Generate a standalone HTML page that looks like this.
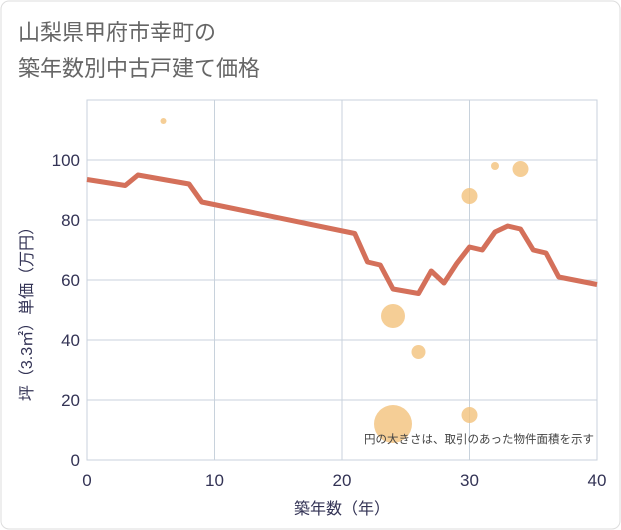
<!DOCTYPE html>
<html><head><meta charset="utf-8"><style>
html,body{margin:0;padding:0;background:#fff;}
svg{display:block;font-family:"Liberation Sans","Noto Sans CJK JP",sans-serif;}
</style></head><body>
<svg id="chart" width="621" height="530" viewBox="0 0 621 530">
<rect x="1" y="1" width="619" height="528" rx="8" fill="#fff" stroke="#ddd" stroke-width="1"/>
<text x="18" y="40" font-size="22" fill="#666">山梨県甲府市幸町の</text>
<text x="18" y="76" font-size="22" fill="#666">築年数別中古戸建て価格</text>
<g id="grid"></g>
<g id="marks"></g>
<g id="axes"></g>
<text transform="translate(32,310) rotate(-90)" text-anchor="middle" font-size="16" fill="#335">坪（3.3㎡）単価（万円）</text>
<text x="342" y="514" text-anchor="middle" font-size="16" fill="#335">築年数（年）</text>
<text x="594" y="443" text-anchor="end" font-size="11.5" fill="#444">円の大きさは、取引のあった物件面積を示す</text>
</svg>
<script>
const lineX=[0,3,4,8,9,21,22,23,24,26,27,28,29,30,31,32,33,34,35,36,37,40];
const lineY=[93.5,91.5,95,92,86,75.5,66,65,57,55.5,63,59,65.5,71,70,76,78,77,70,69,61,58.5];
const bubX=[6,24,24,26,30,30,32,34];
const bubY=[113,48,12,36,88,15,98,97];
const bubR=[3,12,19,7,8,8,4,8];
const xTicks=[0,10,20,30,40];
const yTicks=[0,20,40,60,80,100];
const NS="http://www.w3.org/2000/svg";
const L=87,R=597,T=100,B=460;
const sx=v=>L+(v/40)*(R-L);
const sy=v=>B-(v/120)*(B-T);
function mk(tag,attrs,parent){const e=document.createElementNS(NS,tag);for(const k in attrs)e.setAttribute(k,attrs[k]);document.getElementById(parent).appendChild(e);return e;}
const frame=mk('rect',{x:L,y:T,width:R-L,height:B-T,fill:'none',stroke:'#c8d2dc'},'grid');


for(let v=0;v<=40;v+=10){const g=mk('line',{x1:sx(v),x2:sx(v),y1:T,y2:B,stroke:'#c8d2dc'},'grid');

}
for(let v=0;v<=120;v+=20){const g=mk('line',{x1:L,x2:R,y1:sy(v),y2:sy(v),stroke:'#c8d2dc'},'grid');

}
xTicks.forEach(v=>{const t=mk('text',{x:sx(v),y:B+26,'text-anchor':'middle','font-size':17,fill:'#335'},'axes');t.textContent=v;

});
yTicks.forEach(v=>{const t=mk('text',{x:L-7,y:sy(v)+6,'text-anchor':'end','font-size':17,fill:'#335'},'axes');t.textContent=v;

});
bubX.forEach((x,i)=>{const c=mk('circle',{cx:sx(x),cy:sy(bubY[i]),r:bubR[i],fill:'#f3c27c',opacity:0.8},'marks');

});
const p=mk('polyline',{points:lineX.map((x,i)=>sx(x)+','+sy(lineY[i])).join(' '),fill:'none',stroke:'#d4705a','stroke-width':5,'stroke-linejoin':'round'},'marks');


</script>
</body></html>
